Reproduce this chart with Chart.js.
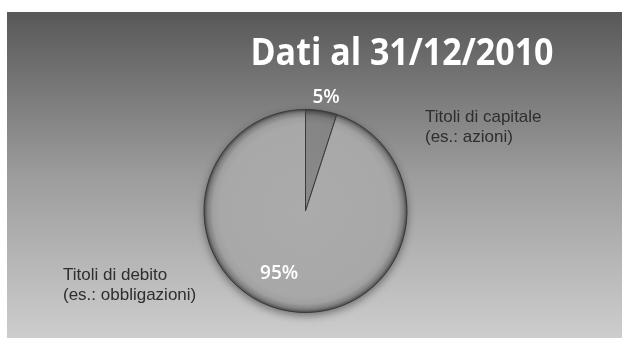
<!DOCTYPE html>
<html>
<head>
<meta charset="utf-8">
<script src="https://cdn.jsdelivr.net/npm/chart.js@4.4.1/dist/chart.umd.min.js"></script>
<style>
  html, body { margin: 0; padding: 0; background: #ffffff; }
  #wrap { width: 622px; height: 338px; }
</style>
</head>
<body>
<div id="wrap"><canvas id="c" width="622" height="338"></canvas></div>
<script>
// ---- data ----
const titleText = 'Dati al 31/12/2010';
const categories = ['Titoli di capitale (es.: azioni)', 'Titoli di debito (es.: obbligazioni)'];
const categoryLines = [['Titoli di capitale', '(es.: azioni)'], ['Titoli di debito', '(es.: obbligazioni)']];
const values = [5, 95];

// ---- styles ----
const sliceStops = [
  [[0, '#8a8a8a'], [0.86, '#858585'], [0.93, '#7a7a7a'], [0.97, '#5a5a5a'], [1, '#353535']],
  [[0, '#ababab'], [0.84, '#a8a8a8'], [0.91, '#a0a0a0'], [0.96, '#808080'], [1, '#444444']]
];

function sliceFill(ctx) {
  const chart = ctx.chart;
  const a = chart.chartArea;
  if (!a) return sliceStops[ctx.dataIndex][0][1];
  const cx = (a.left + a.right) / 2, cy = (a.top + a.bottom) / 2;
  const r = Math.min(a.right - a.left, a.bottom - a.top) / 2;
  const g = chart.ctx.createRadialGradient(cx, cy, 0, cx, cy, r);
  sliceStops[ctx.dataIndex].forEach(s => g.addColorStop(s[0], s[1]));
  return g;
}

const backgroundPlugin = {
  id: 'panelBg',
  beforeDraw(chart) {
    const c = chart.ctx;
    c.save();
    c.fillStyle = '#ffffff';
    c.fillRect(0, 0, chart.width, chart.height);
    const g = c.createLinearGradient(0, 12, 0, chart.height);
    g.addColorStop(0, '#585858');
    g.addColorStop(0.5, '#9c9c9c');
    g.addColorStop(1, '#cdcdcd');
    c.fillStyle = g;
    c.fillRect(7, 12, chart.width - 7, chart.height - 12);
    c.restore();
  },
  beforeDatasetsDraw(chart) {
    const arc = chart.getDatasetMeta(0).data[0];
    if (!arc) return;
    const p = arc.getProps(['x', 'y', 'outerRadius'], true);
    const c = chart.ctx;
    c.save();
    c.shadowColor = 'rgba(0,0,0,0.45)';
    c.shadowBlur = 8;
    c.shadowOffsetY = 3;
    c.fillStyle = '#666';
    c.beginPath();
    c.arc(p.x, p.y, p.outerRadius, 0, Math.PI * 2);
    c.fill();
    c.restore();
  }
};

const textPlugin = {
  id: 'texts',
  afterDraw(chart) {
    const c = chart.ctx;
    const meta = chart.getDatasetMeta(0);
    const total = values.reduce((s, v) => s + v, 0);
    const first = meta.data[0].getProps(['x', 'y', 'outerRadius'], true);
    const cx = first.x, cy = first.y, R = first.outerRadius;
    c.save();
    // title
    c.fillStyle = '#ffffff';
    c.font = 'bold 38px "Open Sans"';
    c.textAlign = 'center';
    c.textBaseline = 'alphabetic';
    c.save();
    c.translate(402, 65);
    c.scale(0.895, 1);
    c.fillText(titleText, 0, 0);
    c.restore();
    // percentages
    const labelPos = [[1.137, 1.3], [0.67, 13.8]];
    c.font = '600 19px "Open Sans"';
    c.textBaseline = 'middle';
    meta.data.forEach((arc, i) => {
      const p = arc.getProps(['startAngle', 'endAngle'], true);
      const mid = (p.startAngle + p.endAngle) / 2 + labelPos[i][1] * Math.PI / 180;
      const d = R * labelPos[i][0];
      const pct = Math.round(values[i] / total * 100) + '%';
      c.fillText(pct, cx + Math.cos(mid) * d, cy + Math.sin(mid) * d);
    });
    // category labels
    c.fillStyle = '#2e2e2e';
    c.font = '17px "Liberation Sans"';
    c.textAlign = 'left';
    const catPos = [[119.5, -94], [-242.5, 64]];
    categoryLines.forEach((lines, i) => {
      lines.forEach((t, j) => {
        c.fillText(t, cx + catPos[i][0], cy + catPos[i][1] + j * 20);
      });
    });
    c.restore();
  }
};

new Chart(document.getElementById('c'), {
  type: 'pie',
  data: {
    labels: categories,
    datasets: [{
      data: values,
      backgroundColor: sliceFill,
      borderColor: '#3a3a3a',
      borderWidth: 1
    }]
  },
  options: {
    responsive: false,
    animation: false,
    rotation: 0,
    layout: { padding: { top: 109, bottom: 25, left: 0, right: 11 } },
    plugins: {
      legend: { display: false },
      tooltip: { enabled: false },
      title: { display: false }
    }
  },
  plugins: [backgroundPlugin, textPlugin]
});
</script>
</body>
</html>
